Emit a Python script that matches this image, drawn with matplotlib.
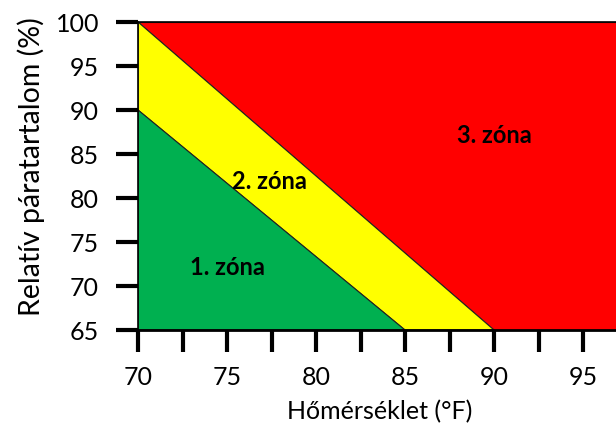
import matplotlib
matplotlib.use("Agg")
import matplotlib.pyplot as plt
from matplotlib.patches import Polygon

plt.rcParams['font.family'] = ['Lato', 'DejaVu Sans']

# zone boundaries (temperature °F, relative humidity %)
zone1_x = [70, 70, 85]
zone1_y = [65, 90, 65]
zone2_x = [70, 70, 90, 85]
zone2_y = [90, 100, 65, 65]
zone3_x = [70, 97.2, 97.2, 90]
zone3_y = [100, 100, 65, 65]
zone_colors = ['#00b050', '#ffff00', '#ff0000']
zone_labels = ['1. zóna', '2. zóna', '3. zóna']
label_x = [75.0, 77.4, 90.0]
label_y = [72.2, 82.0, 87.2]

x_major = [70, 75, 80, 85, 90, 95]
x_minor = [72.5, 77.5, 82.5, 87.5, 92.5]
y_ticks = [65, 70, 75, 80, 85, 90, 95, 100]

fig = plt.figure(figsize=(6.16, 4.27), dpi=100)
ax = fig.add_axes([138/616, 1 - 331/427, (616-138)/616 + 0.01, (331-23)/427])

for xs, ys, c in zip([zone3_x, zone2_x, zone1_x], [zone3_y, zone2_y, zone1_y], zone_colors[::-1]):
    ax.add_patch(Polygon(list(zip(xs, ys)), closed=True, facecolor=c, edgecolor='#222222', linewidth=0.8))

for t, x, y in zip(zone_labels, label_x, label_y):
    ax.text(x, y, t, ha='center', va='center', fontsize=17, fontweight='bold', color='black')

ax.set_xlim(70, 97.2)
ax.set_ylim(65, 100)
ax.set_xticks(x_major)
ax.set_xticks(x_minor, minor=True)
ax.set_yticks(y_ticks)
ax.tick_params(axis='both', which='both', direction='out', length=16, width=3, labelsize=18, color='black')
ax.tick_params(axis='x', pad=9)
ax.tick_params(axis='y', pad=12)
ax.spines['right'].set_visible(False)
for s in ['top', 'bottom', 'left']:
    ax.spines[s].set_linewidth(1.2)
ax.spines['bottom'].set_linewidth(2)

ax.set_xlabel('Hőmérséklet (°F)', fontsize=18, labelpad=8)
ax.set_ylabel('Relatív páratartalom (%)', fontsize=20.5, labelpad=4)
ax.yaxis.set_label_coords(-0.193, 0.535)

fig.savefig('out.png', dpi=100)
